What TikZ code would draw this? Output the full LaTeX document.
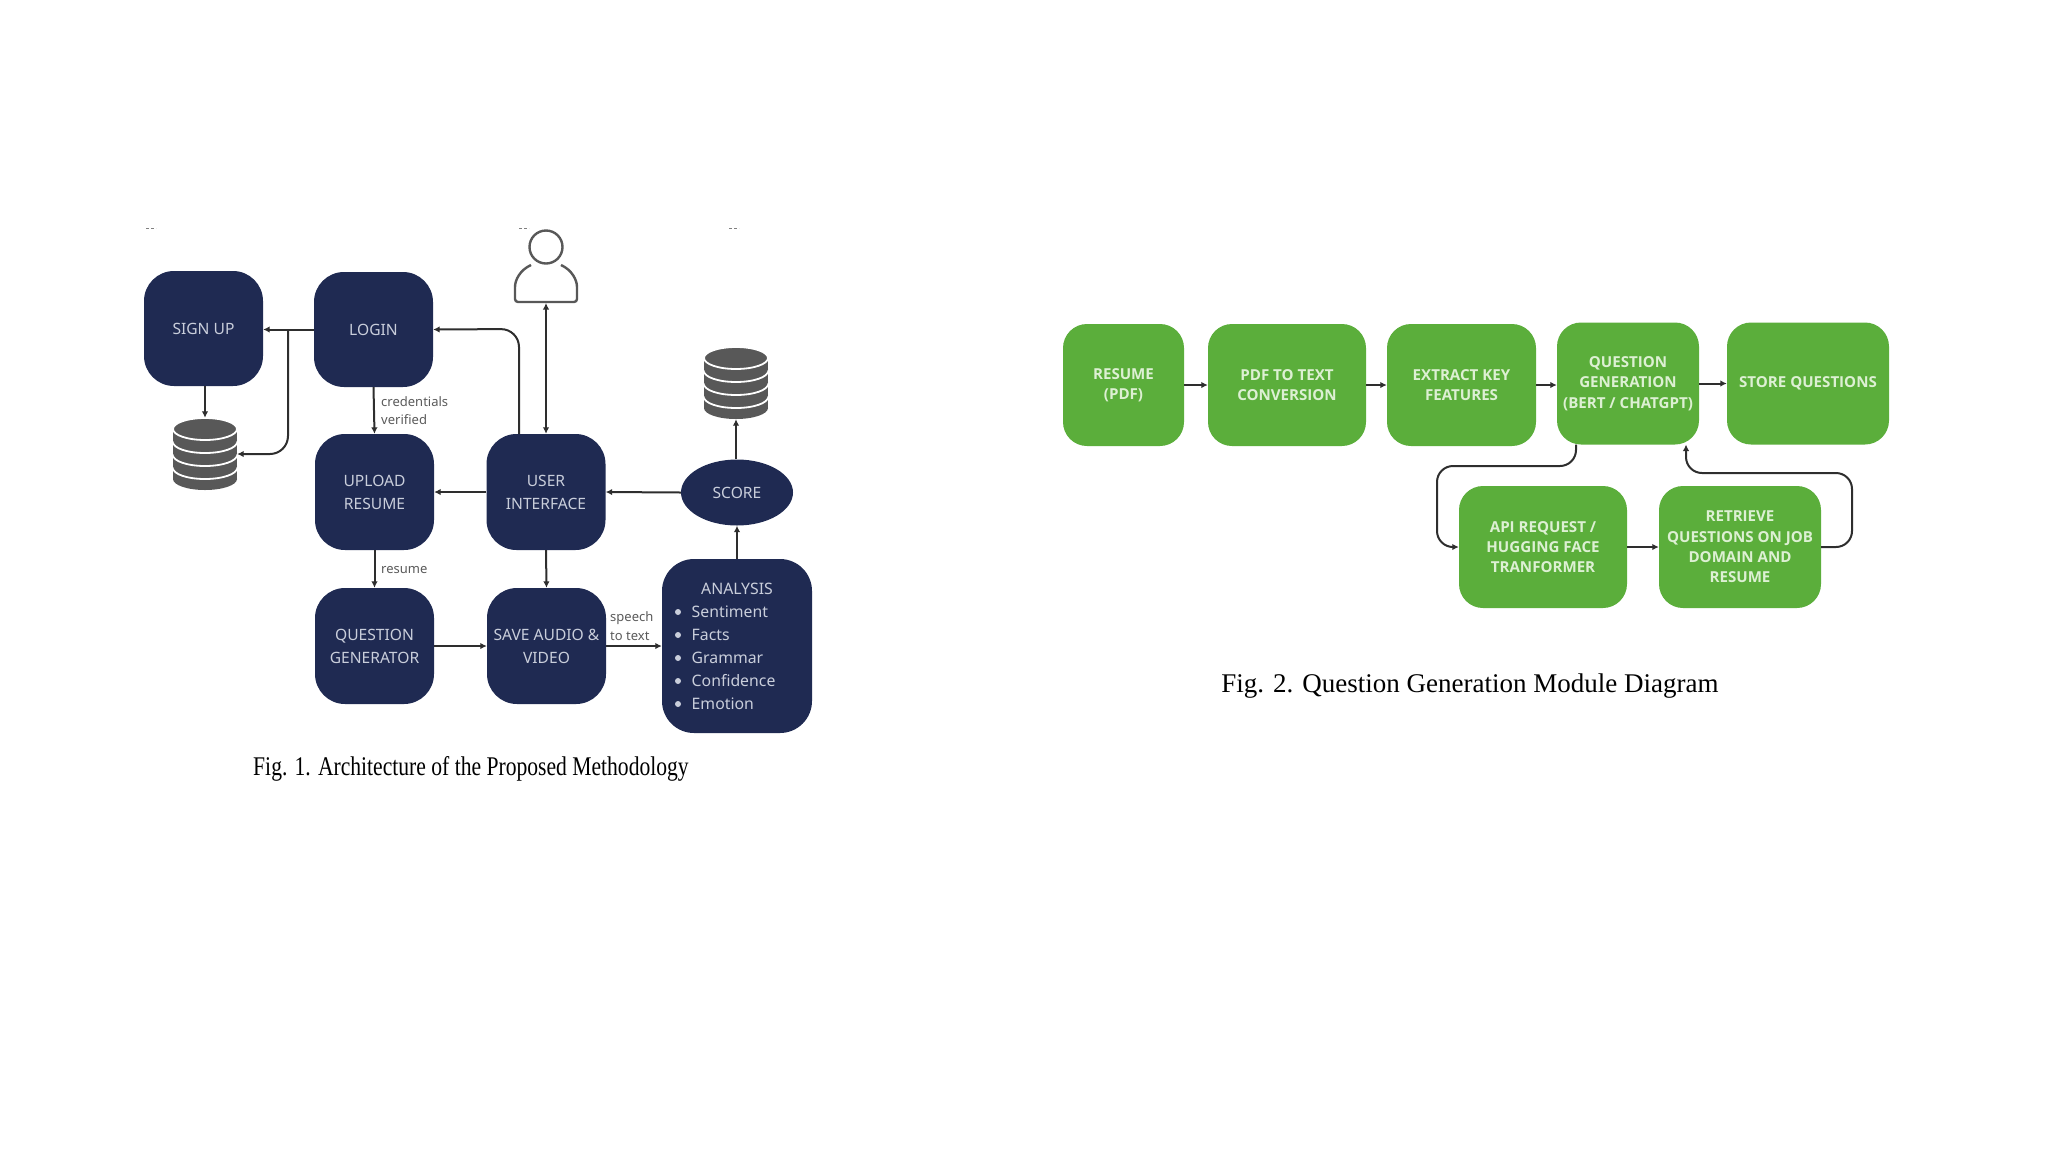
\documentclass[tikz,border=0pt]{standalone}
\usepackage{fontspec}
\setmainfont{Noto Sans}
\newfontfamily\capfont{Liberation Serif}
\newfontfamily\greenfont{Open Sans}
\usetikzlibrary{arrows.meta,shapes.geometric}
\definecolor{navy}{HTML}{1F2A52}
\definecolor{navytext}{HTML}{C9CEDB}
\definecolor{leaf}{HTML}{5BAE3B}
\definecolor{leaftext}{HTML}{DDF0D3}
\definecolor{wire}{HTML}{2E2E2E}
\definecolor{dbgrey}{HTML}{585858}
\definecolor{lab}{HTML}{5A5A5A}
\tikzset{
  navybox/.style={draw=none,fill=navy,rounded corners=30pt,text=navytext,align=center,inner sep=0pt,
    font=\fontsize{15.6}{23}\selectfont},
  leafbox/.style={draw=none,fill=leaf,rounded corners=24pt,text=leaftext,align=center,inner sep=0pt,
    font=\greenfont\bfseries\fontsize{15.1}{20.4}\selectfont},
  arr/.style={draw=wire,line width=2pt,-{Latex[length=6.5pt,width=6.5pt]}},
  darr/.style={draw=wire,line width=2pt,{Latex[length=6.5pt,width=6.5pt]}-{Latex[length=6.5pt,width=6.5pt]}},
  lbl/.style={text=lab,anchor=west,inner sep=0pt,font=\fontsize{13}{18}\selectfont},
  anatxt/.style={text=navytext,anchor=west,inner sep=0pt,font=\fontsize{15.8}{20}\selectfont},
  anadot/.style={circle,fill=navytext,inner sep=0pt,minimum size=6pt},
  capt/.style={text=black,inner sep=0pt,font=\capfont\fontsize{27}{30}\selectfont},
  dbspot/.style={inner sep=0pt,minimum width=64pt,minimum height=72pt},
  speck/.style={draw=gray,line width=1pt,dash pattern=on 3pt off 2pt},
}
\newcommand{\dbstack}[2]{% centre x, top y
  \foreach \i in {3,2,1,0}{
    \pgfmathsetmacro{\yy}{#2+11+\i*13}
    \fill[dbgrey] (#1,\yy+11) ellipse [x radius=32,y radius=11];
    \fill[dbgrey] (#1-32,\yy) rectangle (#1+32,\yy+11);
    \draw[fill=dbgrey,draw=white,line width=1.8pt] (#1,\yy) ellipse [x radius=32,y radius=11];
  }
}
\begin{document}
\begin{tikzpicture}[x=1pt,y=-1pt]
\useasboundingbox (0,0) rectangle (2048,1152);
% specks above the first figure
\draw[speck] (146,228) -- (156,228);
\draw[speck] (519,228) -- (529,228);
\draw[speck] (729,228) -- (739,228);
% ---------- Fig 1 nodes
\node[navybox,minimum width=119pt,minimum height=115pt] (signup) at (203.5,328.5) {SIGN UP};
\node[navybox,minimum width=119pt,minimum height=115pt] (login) at (373.5,329.5) {LOGIN};
\node[navybox,minimum width=119pt,minimum height=116pt] (upload) at (374.5,492) {UPLOAD\\RESUME};
\node[navybox,minimum width=119pt,minimum height=116pt] (ui) at (546,492) {USER\\INTERFACE};
\node[navybox,minimum width=119pt,minimum height=116pt] (qgen) at (374.5,646) {QUESTION\\GENERATOR};
\node[navybox,minimum width=119pt,minimum height=116pt] (save) at (546.5,646) {SAVE AUDIO \&\\VIDEO};
\node[navybox,rounded corners=32pt,minimum width=150pt,minimum height=174pt] (analysis) at (737,646) {};
\node[ellipse,fill=navy,text=navytext,inner sep=0pt,minimum width=112pt,minimum height=66pt,
      font=\fontsize{15.6}{23}\selectfont] (score) at (737,492.5) {SCORE};
% analysis text
\node[text=navytext,inner sep=0pt,font=\fontsize{15.8}{20}\selectfont] (anat) at (737,589) {ANALYSIS};
\node[anatxt] (an1) at (691.5,612) {Sentiment};
\node[anatxt] (an2) at (691.5,635) {Facts};
\node[anatxt] (an3) at (691.5,658) {Grammar};
\node[anatxt] (an4) at (691.5,681) {Confidence};
\node[anatxt] (an5) at (691.5,704) {Emotion};
\foreach \yy/\nm in {612/d1,635/d2,658/d3,681/d4,704/d5}{\node[anadot] (\nm) at (678,\yy) {};}
% databases
\node[dbspot] (db1) at (205,454) {};
\dbstack{205}{418}
\node[dbspot] (db2) at (736,383) {};
\dbstack{736}{347}
% person
\node[circle,draw=dbgrey,line width=2.4pt,minimum size=33pt,inner sep=0pt] (head) at (546,247) {};
\draw[dbgrey,line width=2.4pt,rounded corners=3pt] (531,265) .. controls (520,270) and (515,280) .. (515,290) -- (515,302) -- (577,302) -- (577,290) .. controls (577,280) and (572,270) .. (561,265);
\coordinate (foot) at (546,303);
% ---------- Fig 1 connectors
\coordinate (br) at (288,329);
\coordinate (uiup) at (519,434);
\coordinate (uilog) at (519,329);
\draw[arr] (login.west) -- (login.west -| signup.east);
\draw[arr,rounded corners=18pt] (br) |- (db1.east);
\draw[arr] (signup.south -| db1.north) -- (db1.north);
\draw[arr,rounded corners=18pt] (uiup) -- (uilog) -- (login.east);
\draw[darr] (ui.north) -- (foot);
\draw[arr] (login.south) -- (upload.north);
\draw[arr] (ui.west) -- (upload.east);
\draw[arr] (upload.south) -- (qgen.north);
\draw[arr] (ui.south) -- (save.north);
\draw[arr] (qgen.east) -- (save.west);
\draw[arr] (save.east) -- (analysis.west);
\draw[arr] (score.west) -- (ui.east);
\draw[arr] (analysis.north) -- (score.south);
\draw[arr] (db2.south |- score.north) -- (db2.south);
% labels
\node[lbl] (l1) at (381,402) {credentials};
\node[lbl] (l2) at (381,420) {verified};
\node[lbl] (l3) at (381,570) {resume};
\node[lbl] (l4) at (610,618) {speech};
\node[lbl] (l5) at (610,636) {to text};
% captions
\node[capt,xscale=.8] (cap1) at (471,769) {Fig. 1.\hspace{9pt}Architecture of the Proposed Methodology};
\node[capt] (cap2) at (1470,686) {Fig. 2.\hspace{9pt}Question Generation Module Diagram};
% ---------- Fig 2 nodes
\node[leafbox,minimum width=121pt,minimum height=122pt] (resume) at (1123.5,385) {RESUME\\(PDF)};
\node[leafbox,minimum width=158pt,minimum height=122pt] (pdf) at (1287,385) {PDF TO TEXT\\CONVERSION};
\node[leafbox,minimum width=149pt,minimum height=122pt] (extract) at (1461.5,385) {EXTRACT KEY\\FEATURES};
\node[leafbox,minimum width=142pt,minimum height=122pt] (qg) at (1628,383.5) {QUESTION\\GENERATION\\(BERT / CHATGPT)};
\node[leafbox,minimum width=162pt,minimum height=122pt] (store) at (1808,383.5) {STORE QUESTIONS};
\node[leafbox,minimum width=168pt,minimum height=122pt] (api) at (1543,547) {API REQUEST /\\HUGGING FACE\\TRANFORMER};
\node[leafbox,minimum width=162pt,minimum height=122pt] (ret) at (1740,547) {RETRIEVE\\QUESTIONS ON JOB\\DOMAIN AND\\RESUME};
% ---------- Fig 2 connectors
\coordinate (a1) at (1576,444.5);
\coordinate (a2) at (1576,466);
\coordinate (a3) at (1437,466);
\coordinate (a4) at (1437,547);
\coordinate (b1) at (1852,547);
\coordinate (b2) at (1852,473);
\coordinate (b3) at (1686,473);
\coordinate (b4) at (1686,444.5);
\draw[arr] (resume.east) -- (pdf.west |- resume.east);
\draw[arr] (pdf.east) -- (extract.west);
\draw[arr] (extract.east) -- (extract.east -| qg.west);
\draw[arr] (qg.east) -- (store.west);
\draw[arr] (api.east) -- (ret.west);
\draw[arr,rounded corners=16pt] (a1) -- (a2) -- (a3) -- (a4) -- (api.west);
\draw[arr,rounded corners=16pt] (ret.east) -- (b1) -- (b2) -- (b3) -- (b4);
\end{tikzpicture}
\end{document}
